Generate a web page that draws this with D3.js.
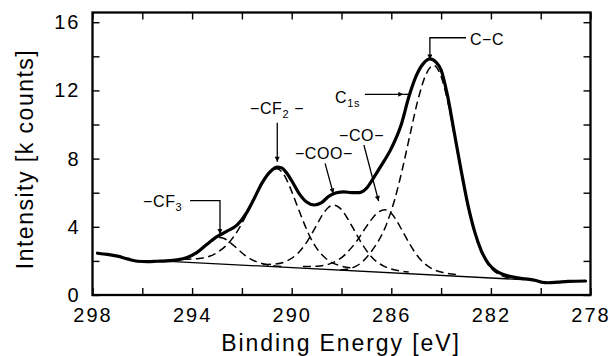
<!DOCTYPE html>
<html><head><meta charset="utf-8">
<script src="https://cdn.jsdelivr.net/npm/d3@7"></script>
<style>
html,body{margin:0;padding:0;background:#fff;}
svg{display:block;}
text{font-family:"Liberation Sans",Arial,sans-serif;fill:#000;}
</style></head><body>
<svg id="chart" width="610" height="356"></svg>
<script>
// ---- tick values and titles ----
const energyMajorTicks = [298, 294, 290, 286, 282, 278];
const energyMinorTicks = [296, 292, 288, 284, 280];
const intensityMajorTicks = [0, 4, 8, 12, 16];
const intensityMinorTicks = [2, 6, 10, 14];
const xTitle = "Binding Energy [eV]";
const yTitle = "Intensity [k counts]";

// ---- measured C1s envelope [binding energy eV, k counts] ----
const c1sEnvelope = [
  [297.8, 2.45], [297.4, 2.38], [297.0, 2.28], [296.6, 2.12], [296.2, 1.98], [295.8, 1.96],
  [295.4, 1.98], [295.0, 2.0], [294.6, 2.06], [294.2, 2.2], [293.8, 2.5], [293.4, 2.98],
  [293.0, 3.42], [292.6, 3.74], [292.2, 4.1], [291.8, 4.85], [291.5, 5.68], [291.2, 6.55],
  [291.0, 7.0], [290.8, 7.32], [290.6, 7.5], [290.4, 7.45], [290.2, 7.15], [290.0, 6.7],
  [289.7, 5.95], [289.4, 5.45], [289.1, 5.28], [288.8, 5.42], [288.5, 5.8], [288.2, 6.0],
  [287.9, 6.05], [287.6, 6.0], [287.3, 6.0], [287.0, 6.25], [286.7, 6.9], [286.4, 7.6],
  [286.0, 8.6], [285.6, 10.0], [285.3, 11.6], [285.0, 12.85], [284.7, 13.6], [284.45, 13.85],
  [284.2, 13.65], [284.0, 13.2], [283.75, 11.75], [283.48, 9.6], [283.2, 7.35], [282.93, 5.33],
  [282.65, 3.7], [282.38, 2.58], [282.1, 1.84], [281.8, 1.42], [281.5, 1.2], [281.2, 1.08],
  [280.8, 0.98], [280.45, 0.92], [280.2, 0.85], [279.95, 0.75], [279.7, 0.72], [279.3, 0.76],
  [278.9, 0.8], [278.2, 0.82]
];

// ---- background line ----
const background = [[295.5, 2.02], [280.2, 0.86]];

// ---- fitted components ----
const peakCF3 = [
  [295.15, 2.03], [294.78, 2.03], [294.4, 2.09], [294.03, 2.28], [293.84, 2.44], [293.65, 2.66],
  [293.46, 2.91], [293.28, 3.15], [293.09, 3.33], [292.9, 3.38], [292.69, 3.30], [292.48, 3.09],
  [292.26, 2.82], [292.05, 2.54], [291.84, 2.29], [291.63, 2.09], [291.2, 1.85], [290.78, 1.73],
  [290.35, 1.67]
];
const peakCF2 = [
  [294.35, 2.09], [293.73, 2.14], [293.1, 2.40], [292.48, 3.14], [292.16, 3.79], [291.85, 4.62],
  [291.54, 5.56], [291.23, 6.47], [290.91, 7.16], [290.6, 7.40], [290.34, 7.12], [290.09, 6.39],
  [289.83, 5.43], [289.57, 4.45], [289.32, 3.58], [289.06, 2.88], [288.55, 2.05], [288.04, 1.71],
  [287.52, 1.57]
];
const peakCOO = [
  [291.15, 1.79], [290.68, 1.82], [290.2, 1.99], [289.73, 2.48], [289.49, 2.90], [289.25, 3.45],
  [289.01, 4.07], [288.78, 4.67], [288.54, 5.12], [288.3, 5.27], [288.05, 5.08], [287.8, 4.59],
  [287.55, 3.96], [287.3, 3.30], [287.05, 2.72], [286.8, 2.25], [286.3, 1.69], [285.8, 1.45],
  [285.3, 1.35]
];
const peakCO = [
  [289.55, 1.67], [289.0, 1.69], [288.45, 1.84], [287.9, 2.31], [287.63, 2.72], [287.35, 3.24],
  [287.08, 3.84], [286.8, 4.42], [286.53, 4.85], [286.25, 5.00], [286.01, 4.81], [285.78, 4.34],
  [285.54, 3.72], [285.3, 3.09], [285.06, 2.52], [284.83, 2.08], [284.35, 1.53], [283.88, 1.30],
  [283.4, 1.20]
];
const peakCC = [
  [288.05, 1.46], [287.43, 1.68], [286.8, 2.55], [286.18, 4.20], [285.86, 5.62], [285.55, 7.42],
  [285.24, 9.46], [284.93, 11.44], [284.61, 12.93], [284.3, 13.47], [284.03, 12.93], [283.75, 11.47],
  [283.48, 9.44], [283.2, 7.24], [282.93, 5.24], [282.65, 3.63], [282.38, 2.50], [282.1, 1.77],
  [281.55, 1.12], [281.0, 0.95]
];
const components = [peakCF3, peakCF2, peakCOO, peakCO, peakCC];

// ---- annotation labels (anchored in data coordinates) ----
const annotations = [
  { parts: [["−CF", false], ["3", true]], at: [295.97, 5.18],
    path: [[294.08, 5.53], [292.88, 5.53], [292.88, 3.58]] },
  { parts: [["−CF", false], ["2", true], [" −", false]], at: [291.675, 10.6],
    path: [[290.58, 10.1], [290.58, 7.82]] },
  { parts: [["−COO−", false]], at: [289.87, 7.96],
    path: [[288.66, 7.72], [288.33, 5.96]] },
  { parts: [["−CO−", false]], at: [288.1, 9.03],
    path: [[287.10, 8.80], [286.51, 5.51]] },
  { parts: [["C", false], ["1s", true]], at: [288.26, 11.24],
    path: [[287.06, 11.77], [285.52, 11.77]], extend: [[285.52, 11.77], [285.25, 11.77]] },
  { parts: [["C−C", false]], at: [282.84, 14.66],
    path: [[283.0, 15.09], [284.45, 15.09], [284.45, 13.81]] }
];

// ---- drawing ----
const svg = d3.select("#chart");
const x = d3.scaleLinear().domain([298, 278]).range([92.5, 590.5]);
const y = d3.scaleLinear().domain([0, 16.57]).range([295, 12.5]);

const defs = svg.append("defs");
defs.append("marker").attr("id", "ah")
  .attr("viewBox", "0 0 10 10").attr("refX", 10).attr("refY", 5)
  .attr("markerWidth", 7).attr("markerHeight", 5)
  .attr("markerUnits", "userSpaceOnUse").attr("orient", "auto")
  .append("path").attr("d", "M0,0L10,5L0,10Z").attr("fill", "#000");

const allE = energyMajorTicks.concat(energyMinorTicks).sort((a, b) => b - a);
const allI = intensityMajorTicks.concat(intensityMinorTicks).sort((a, b) => a - b);

function styleAxis(g) {
  g.select(".domain").remove();
  g.selectAll(".tick line").attr("stroke", "#000").attr("stroke-width", 1.4);
  g.selectAll(".tick text").attr("font-size", 20).attr("letter-spacing", "2px")
    .attr("font-family", "'Liberation Sans', Arial, sans-serif").attr("fill", "#000");
}

svg.append("g").attr("transform", `translate(0,${y(0)})`)
  .call(d3.axisBottom(x).tickValues(allE).tickSize(-7).tickPadding(13)
    .tickFormat(d => energyMajorTicks.includes(d) ? d : ""))
  .call(styleAxis);
svg.append("g").attr("transform", `translate(0,${y.range()[1]})`)
  .call(d3.axisTop(x).tickValues(allE).tickSize(-7).tickFormat(""))
  .call(styleAxis);
svg.append("g").attr("transform", `translate(${x(298)},0)`)
  .call(d3.axisLeft(y).tickValues(allI).tickSize(-7).tickPadding(12)
    .tickFormat(d => intensityMajorTicks.includes(d) ? d : ""))
  .call(styleAxis);
svg.append("g").attr("transform", `translate(${x(278)},0)`)
  .call(d3.axisRight(y).tickValues(allI).tickSize(-7).tickFormat(""))
  .call(styleAxis);

const line = d3.line().x(d => x(d[0])).y(d => y(d[1])).curve(d3.curveMonotoneX);
const straight = d3.line().x(d => x(d[0])).y(d => y(d[1]));

svg.append("path").attr("d", straight(background))
  .attr("fill", "none").attr("stroke", "#000").attr("stroke-width", 1.3);

svg.selectAll(".comp").data(components).join("path").attr("class", "comp")
  .attr("d", d => line(d)).attr("fill", "none").attr("stroke", "#000")
  .attr("stroke-width", 1.5).attr("stroke-dasharray", "8,4.5");

svg.append("path").attr("d", line(c1sEnvelope))
  .attr("fill", "none").attr("stroke", "#000").attr("stroke-width", 3.2)
  .attr("stroke-linejoin", "round").attr("stroke-linecap", "round");

// frame
svg.append("rect").attr("x", x(298)).attr("y", y.range()[1])
  .attr("width", x(278) - x(298)).attr("height", y(0) - y.range()[1])
  .attr("fill", "none").attr("stroke", "#000").attr("stroke-width", 2.3);

// annotations
annotations.forEach(a => {
  svg.append("path").attr("d", straight(a.path)).attr("fill", "none")
    .attr("stroke", "#000").attr("stroke-width", 1.3).attr("marker-end", "url(#ah)");
  if (a.extend) {
    svg.append("path").attr("d", straight(a.extend)).attr("fill", "none")
      .attr("stroke", "#000").attr("stroke-width", 1.3);
  }
  const t = svg.append("text").attr("x", x(a.at[0])).attr("y", y(a.at[1]))
    .attr("font-size", 16).attr("letter-spacing", "0.6px");
  a.parts.forEach((p, i) => {
    const prevSub = i > 0 && a.parts[i - 1][1];
    const ts = t.append("tspan").text(p[0]);
    if (p[1]) ts.attr("font-size", 11).attr("dy", 4);
    else if (prevSub) ts.attr("dy", -4);
  });
});

// axis titles
svg.append("text").attr("x", 341).attr("y", 351).attr("text-anchor", "middle")
  .attr("font-size", 23).attr("letter-spacing", "1.9px").text(xTitle);
svg.append("text").attr("transform", "translate(33,159) rotate(-90)")
  .attr("text-anchor", "middle").attr("font-size", 23).attr("letter-spacing", "1.5px").text(yTitle);
</script>
</body></html>
